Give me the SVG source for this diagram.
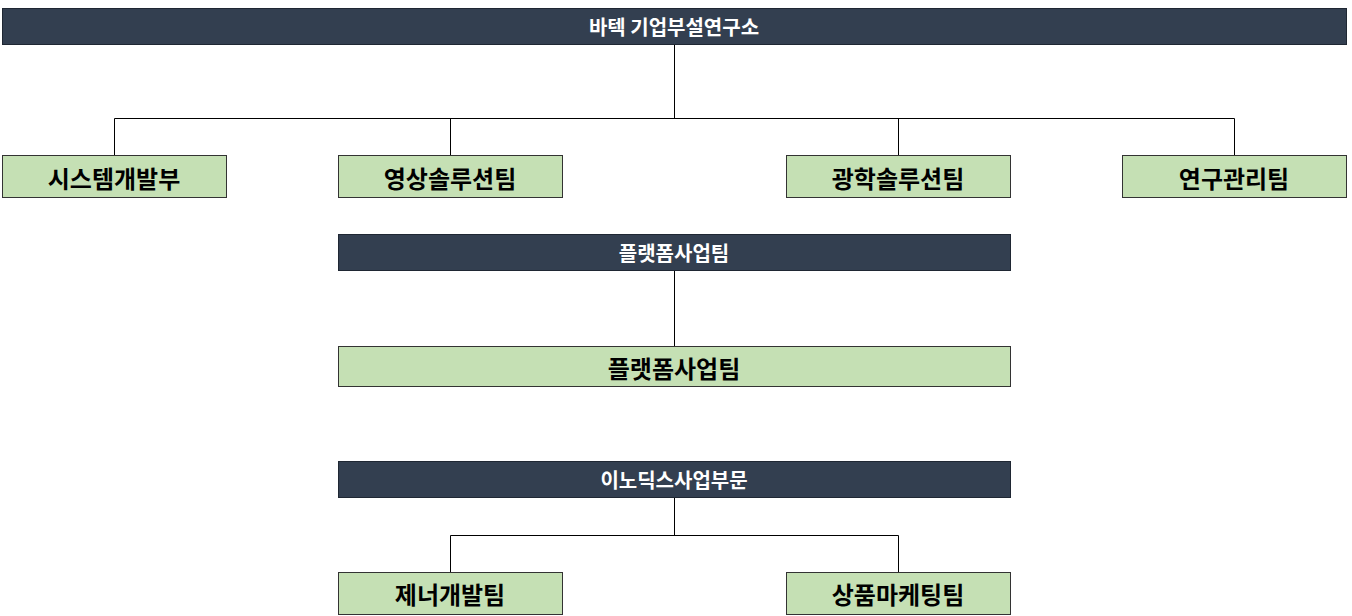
<svg xmlns="http://www.w3.org/2000/svg" width="1352" height="616" viewBox="0 0 1352 616">
<style>
.d{fill:#333f50;stroke:#1f2733;stroke-width:1}
.g{fill:#c5e0b4;stroke:#333333;stroke-width:1}
.dt{fill:#ffffff;font-family:"Noto Sans CJK KR","Noto Sans",sans-serif;font-weight:bold;font-size:20px;text-anchor:middle;dominant-baseline:central}
.gt{fill:#000000;font-family:"Noto Sans CJK KR","Noto Sans",sans-serif;font-weight:bold;font-size:24px;text-anchor:middle;dominant-baseline:central}
.c{fill:none;stroke:#000;stroke-width:1}
</style>
<rect width="1352" height="616" fill="#fff"/>
<g id="connectors">
<path class="c" d="M674.5 44V118.5M114.5 155V118.5H1234.5V155M450.5 118.5V155M898.5 118.5V155"/>
<path class="c" d="M674.5 271V346"/>
<path class="c" d="M674.5 498V535.5M450.5 572V535.5H898.5V572"/>
</g>
<g id="root"><rect class="d" x="2.5" y="8.5" width="1344" height="36"/><text class="dt" x="674" y="26">바텍 기업부설연구소</text></g>
<g id="n1"><rect class="g" x="2.5" y="155.5" width="224" height="42"/><text class="gt" x="114" y="177">시스템개발부</text></g>
<g id="n2"><rect class="g" x="338.5" y="155.5" width="224" height="42"/><text class="gt" x="450" y="177">영상솔루션팀</text></g>
<g id="n3"><rect class="g" x="786.5" y="155.5" width="224" height="42"/><text class="gt" x="898" y="177">광학솔루션팀</text></g>
<g id="n4"><rect class="g" x="1122.5" y="155.5" width="224" height="42"/><text class="gt" x="1234" y="177">연구관리팀</text></g>
<g id="platformHead"><rect class="d" x="338.5" y="234.5" width="672" height="36"/><text class="dt" x="674" y="252">플랫폼사업팀</text></g>
<g id="platform"><rect class="g" x="338.5" y="346.5" width="672" height="40"/><text class="gt" x="674" y="367">플랫폼사업팀</text></g>
<g id="inoHead"><rect class="d" x="338.5" y="461.5" width="672" height="36"/><text class="dt" x="674" y="479">이노딕스사업부문</text></g>
<g id="n5"><rect class="g" x="338.5" y="572.5" width="224" height="42"/><text class="gt" x="450" y="593">제너개발팀</text></g>
<g id="n6"><rect class="g" x="786.5" y="572.5" width="224" height="42"/><text class="gt" x="898" y="593">상품마케팅팀</text></g>
</svg>
